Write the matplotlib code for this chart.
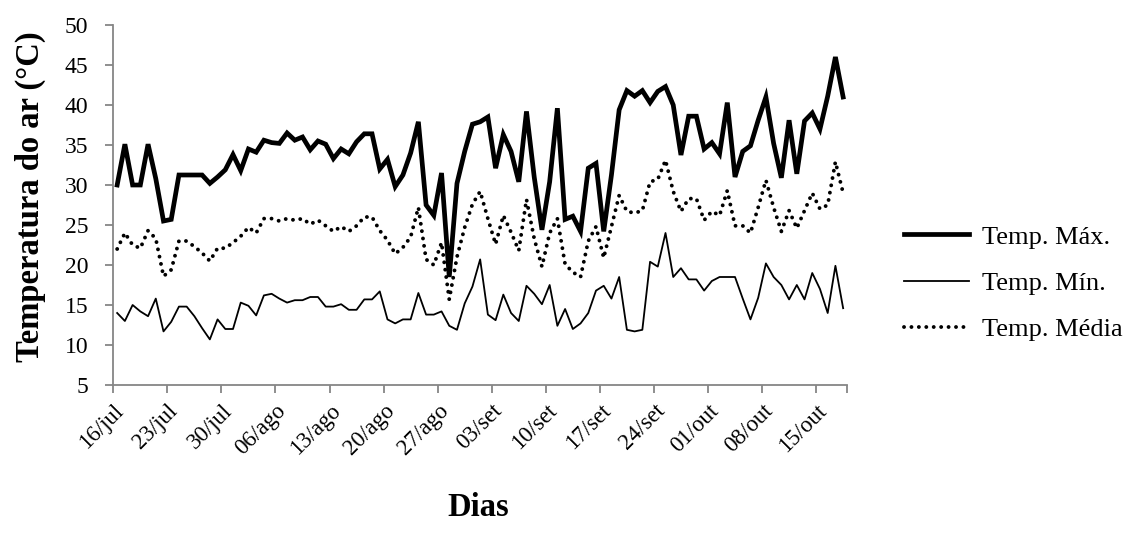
import matplotlib
matplotlib.use("Agg")
import matplotlib.pyplot as plt
import matplotlib.transforms as mtransforms
import numpy as np

plt.rcParams['font.family'] = ['Liberation Serif', 'DejaVu Serif']

tick_labels = ['16/jul', '23/jul', '30/jul', '06/ago', '13/ago', '20/ago', '27/ago',
               '03/set', '10/set', '17/set', '24/set', '01/out', '08/out', '15/out']

temp_max = [30.0, 35.1, 30.0, 30.0, 35.1, 30.8, 25.5, 25.7, 31.25, 31.25,
            31.25, 31.25, 30.2, 31.0, 31.9, 33.8, 31.8, 34.5, 34.1, 35.6,
            35.3, 35.2, 36.5, 35.6, 36.0, 34.4, 35.5, 35.1, 33.3, 34.5,
            33.9, 35.4, 36.4, 36.4, 32.0, 33.2, 29.8, 31.25, 34.0, 37.9,
            27.5, 26.2, 31.5, 18.5, 30.2, 34.2, 37.6, 37.9, 38.5, 32.1,
            36.3, 34.2, 30.4, 39.2, 31.0, 24.4, 30.4, 39.6, 25.7, 26.1,
            24.2, 32.1, 32.7, 24.2, 31.25, 39.4, 41.8, 41.1, 41.8, 40.3,
            41.7, 42.3, 40.0, 33.75, 38.6, 38.6, 34.5, 35.3, 33.9, 40.3,
            31.0, 34.2, 34.9, 38.1, 41.0, 35.2, 30.9, 38.1, 31.4, 38.0,
            39.0, 37.0, 41.1, 46.0, 41.0]

temp_min = [14.0, 13.0, 15.0, 14.2, 13.6, 15.8, 11.7, 12.9, 14.8, 14.8,
            13.6, 12.1, 10.7, 13.2, 12.0, 12.0, 15.3, 14.9, 13.7, 16.2,
            16.4, 15.8, 15.3, 15.6, 15.6, 16.0, 16.0, 14.8, 14.8, 15.1,
            14.4, 14.4, 15.7, 15.7, 16.7, 13.2, 12.7, 13.2, 13.2, 16.5,
            13.8, 13.8, 14.2, 12.4, 11.9, 15.2, 17.3, 20.7, 13.8, 13.1,
            16.3, 14.0, 13.0, 17.4, 16.4, 15.1, 17.5, 12.4, 14.5, 12.0,
            12.7, 14.0, 16.8, 17.4, 15.8, 18.5, 11.9, 11.7, 11.9, 20.4,
            19.8, 24.0, 18.5, 19.6, 18.2, 18.2, 16.8, 18.0, 18.5, 18.5,
            18.5, 15.8, 13.2, 15.9, 20.2, 18.5, 17.5, 15.7, 17.5, 15.7,
            19.0, 17.0, 14.0, 19.9, 14.6]

temp_media = [22.0, 24.0, 22.5, 22.1, 24.3, 23.3, 18.6, 19.4, 23.0, 23.0,
              22.3, 21.5, 20.5, 22.1, 22.1, 22.8, 23.6, 24.7, 24.0, 25.8,
              25.8, 25.5, 25.8, 25.6, 25.8, 25.1, 25.6, 24.9, 24.2, 24.8,
              24.2, 24.9, 26.0, 26.0, 24.3, 23.1, 21.4, 22.2, 23.5, 27.2,
              20.7, 20.0, 22.8, 15.7, 21.0, 24.7, 27.6, 29.2, 25.8, 22.6,
              26.2, 24.1, 21.8, 28.2, 23.3, 19.8, 24.0, 25.8, 20.1, 19.1,
              18.5, 23.0, 24.8, 20.9, 24.8, 28.7, 26.7, 26.5, 26.8, 30.4,
              30.7, 33.1, 29.2, 26.7, 28.3, 28.3, 25.6, 26.7, 26.2, 29.3,
              24.9, 24.9, 24.0, 27.2, 30.6, 27.2, 24.2, 26.8, 24.6, 26.8,
              29.0, 27.0, 27.5, 32.9, 29.0]

n = len(temp_max)
x = np.arange(n)

fig = plt.figure(figsize=(11.28, 5.34), dpi=100)
ax = fig.add_axes([113.3 / 1128, 1 - 385 / 534, (847 - 113.3) / 1128, 360 / 534])

ax.plot(x, temp_max, color='black', lw=3.4, solid_joinstyle='miter', label='Temp. Máx.')
ax.plot(x, temp_min, color='black', lw=1.3, label='Temp. Mín.')
ax.plot(x, temp_media, color='black', lw=2.8, linestyle=(0, (0.01, 1.9)),
        dash_capstyle='round', label='Temp. Média')

ax.set_xlim(-0.5, n - 0.5)
ax.set_ylim(5, 50)
ax.set_yticks(np.arange(5, 51, 5))

xt = np.arange(len(tick_labels)) * 7 - 0.5
ax.set_xticks(list(xt) + [n - 0.5])
ax.set_xticklabels(tick_labels + [''], rotation=45, ha='right', va='top',
                   rotation_mode='anchor', fontsize=16.5)
off = mtransforms.ScaledTranslation(5 / 100, 3 / 100, fig.dpi_scale_trans)
for lab in ax.get_xticklabels():
    lab.set_transform(lab.get_transform() + off)

for s in ['top', 'right']:
    ax.spines[s].set_visible(False)
for s in ['left', 'bottom']:
    ax.spines[s].set_color('#868686')
    ax.spines[s].set_linewidth(1.3)
ax.tick_params(axis='both', colors='#868686', length=6, width=1.3, labelcolor='black', labelsize=16.5)
ax.tick_params(axis='y', labelsize=17, pad=12)
ax.tick_params(axis='x', pad=5)

fig.text(30 / 1128, 1 - 197 / 534, 'Temperatura do ar (°C)', fontsize=23.5, fontweight='bold',
         rotation=90, ha='center', va='center')
fig.text(478 / 1128, 1 - 508 / 534, 'Dias', fontsize=23.5, fontweight='bold', ha='center', va='center')

leg = fig.legend(loc='center left', bbox_to_anchor=(904 / 1128, 1 - 283 / 534), frameon=False,
                 fontsize=19, handlelength=2.46, handletextpad=0.5, labelspacing=0.86,
                 borderpad=0, borderaxespad=0)

fig.savefig('out.png', dpi=100)
